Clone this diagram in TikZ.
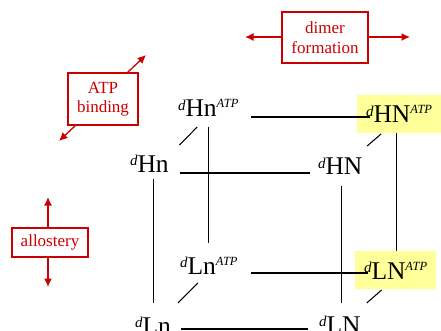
\documentclass[tikz,border=0pt]{standalone}
\usepackage{fontspec}
\setmainfont{Liberation Serif}
\usetikzlibrary{arrows.meta}

\definecolor{annot}{RGB}{204,0,0}
\definecolor{hilite}{RGB}{255,255,153}

% state label: superscript d, main letters, superscript tag
\newcommand{\statelab}[2]{%
  \raisebox{6.5pt}{\fontsize{15}{15}\selectfont\itshape d}#1%
  \raisebox{9pt}{\fontsize{12.5}{12.5}\selectfont\itshape #2}}

\tikzset{
  state/.style={inner sep=0pt, outer sep=0pt, anchor=base west,
                font=\fontsize{25.5}{30}\selectfont},
  boundstate/.style={state, fill=hilite, inner xsep=9pt, inner ysep=5pt,
                     text height=23pt, text depth=5pt},
  edge/.style={line width=1.05pt, black},
  tag/.style={draw=annot, line width=1.2pt, text=annot, align=center,
              inner sep=2pt, font=\fontsize{17}{19.5}\selectfont},
  tagarrow/.style={draw=annot, line width=1.3pt,
                   -{Latex[length=8.5pt,width=8pt]}},
}

\begin{document}
\begin{tikzpicture}[x=1pt,y=1pt]
\path[use as bounding box] (0,0) rectangle (441,-331);

% back face (ATP bound)
\node[state] (hnA) at (178,-117) {\statelab{Hn}{ATP}};
\node[boundstate] (HNA) at (357,-123) {\statelab{HN}{ATP}};
\node[state] (lnA) at (180,-274) {\statelab{Ln}{ATP}};
\node[boundstate] (LNA) at (355,-279) {\statelab{LN}{ATP}};

% front face
\node[state] (hn) at (130,-172) {\statelab{Hn}{}};
\node[state] (HN) at (318,-175) {\statelab{HN}{}};
\node[state] (ln) at (135,-334) {\statelab{Ln}{}};
\node[state] (LN) at (319,-333) {\statelab{LN}{}};

% horizontal edges
\draw[edge] ([xshift=13pt]hnA.base east) -- ([xshift=13pt]hnA.base east -| HNA.west);
\draw[edge] ([xshift=11pt,yshift=-1pt]hn.base east) -- ([xshift=-8pt,yshift=-1pt]hn.base east -| HN.base west);
\draw[edge] ([xshift=13pt,yshift=1pt]lnA.base east) -- ([xshift=13pt,yshift=1pt]lnA.base east -| LNA.west);
\draw[edge] ([xshift=10pt,yshift=5pt]ln.base east) -- ([xshift=-11pt,yshift=5pt]ln.base east -| LN.base west);

% vertical edges
\draw[edge] ([yshift=-10pt]hnA.base) -- ([yshift=31pt]lnA.base -| hnA.base);
\draw[edge] ([xshift=4pt,yshift=-7pt]hn.base) -- ([xshift=4pt,yshift=31pt]hn.base |- ln.base);
\draw[edge] ([xshift=-3pt]HNA.south) -- ([xshift=-3pt]HNA.south |- LNA.north);
\draw[edge] ([xshift=1pt,yshift=-11pt]HN.base) -- ([xshift=1pt,yshift=30pt]HN.base |- LN.base);

% depth edges
\draw[edge] ([xshift=-11pt,yshift=-10pt]hnA.base) -- ([xshift=30pt,yshift=27pt]hn.base);
\draw[edge] ([xshift=-18pt,yshift=-1pt]HNA.south) -- ([xshift=27pt,yshift=29pt]HN.base);
\draw[edge] ([xshift=-11pt,yshift=-9pt]lnA.base) -- ([xshift=25pt,yshift=31pt]ln.base);
\draw[edge] ([xshift=-14pt,yshift=-1pt]LNA.south) -- ([xshift=27pt,yshift=30pt]LN.base);

% annotations
\node[tag, minimum width=86pt, minimum height=51pt] (dimer) at (325,-37.5) {dimer\\formation};
\coordinate (dimerL) at (245,-37);
\coordinate (dimerR) at (410,-37);
\draw[tagarrow] (dimer.west |- dimerL) -- (dimerL);
\draw[tagarrow] (dimer.east |- dimerR) -- (dimerR);

\node[tag, minimum width=70pt, minimum height=52pt] (atp) at (103,-99) {ATP\\binding};
\coordinate (atpU) at (146,-55);
\coordinate (atpD) at (59,-141);
\draw[tagarrow] ([xshift=-11pt]atp.north east) -- (atpU);
\draw[tagarrow] ([xshift=8pt]atp.south west) -- (atpD);

\node[tag, minimum width=76pt, minimum height=29pt] (allo) at (50,-242.5) {allostery};
\coordinate (alloU) at (48,-197);
\coordinate (alloD) at (48,-287);
\draw[tagarrow] ([xshift=-2pt]allo.north) -- (alloU);
\draw[tagarrow] ([xshift=-2pt]allo.south) -- (alloD);
\end{tikzpicture}
\end{document}
